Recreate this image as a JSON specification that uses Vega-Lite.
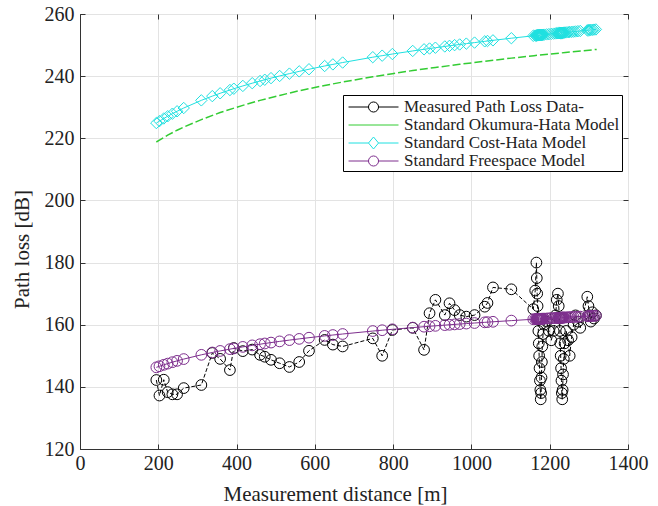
{
  "$schema": "https://vega.github.io/schema/vega-lite/v6.json",
  "width": 548,
  "height": 435,
  "autosize": {"type": "none"},
  "padding": {"left": 80, "top": 14, "right": 30, "bottom": 57},
  "background": "white",
  "datasets": {
    "main": [
      {"d":195,"m":142.2,"c":224.90,"f":146.28},
      {"d":203,"m":137.2,"c":225.53,"f":146.63},
      {"d":214,"m":142.3,"c":226.37,"f":147.09},
      {"d":224,"m":138.3,"c":227.09,"f":147.48},
      {"d":236,"m":137.6,"c":227.91,"f":147.94},
      {"d":248,"m":137.6,"c":228.69,"f":148.37},
      {"d":265,"m":139.6,"c":229.74,"f":148.94},
      {"d":310,"m":140.6,"c":232.21,"f":150.31},
      {"d":338,"m":150.9,"c":233.57,"f":151.06},
      {"d":358,"m":149.0,"c":234.48,"f":151.56},
      {"d":383,"m":145.4,"c":235.54,"f":152.14},
      {"d":393,"m":152.5,"c":235.95,"f":152.37},
      {"d":416,"m":151.5,"c":236.85,"f":152.86},
      {"d":440,"m":152.0,"c":237.73,"f":153.35},
      {"d":460,"m":150.3,"c":238.43,"f":153.73},
      {"d":472,"m":149.7,"c":238.84,"f":153.96},
      {"d":488,"m":148.7,"c":239.36,"f":154.25},
      {"d":510,"m":147.6,"c":240.06,"f":154.63},
      {"d":535,"m":146.4,"c":240.81,"f":155.05},
      {"d":560,"m":148.0,"c":241.53,"f":155.44},
      {"d":585,"m":151.6,"c":242.22,"f":155.82},
      {"d":625,"m":155.1,"c":243.26,"f":156.40},
      {"d":646,"m":153.6,"c":243.78,"f":156.68},
      {"d":671,"m":153.0,"c":244.38,"f":157.01},
      {"d":748,"m":155.6,"c":246.10,"f":157.96},
      {"d":772,"m":150.0,"c":246.59,"f":158.23},
      {"d":798,"m":158.3,"c":247.12,"f":158.52},
      {"d":850,"m":159.0,"c":248.11,"f":159.07},
      {"d":879,"m":151.9,"c":248.64,"f":159.36},
      {"d":893,"m":163.7,"c":248.89,"f":159.50},
      {"d":908,"m":168.0,"c":249.15,"f":159.64},
      {"d":932,"m":163.1,"c":249.56,"f":159.87},
      {"d":944,"m":166.9,"c":249.76,"f":159.98},
      {"d":957,"m":164.7,"c":249.98,"f":160.10},
      {"d":970,"m":163.1,"c":250.19,"f":160.21},
      {"d":987,"m":162.6,"c":250.47,"f":160.37},
      {"d":1008,"m":163.1,"c":250.80,"f":160.55},
      {"d":1034,"m":165.8,"c":251.20,"f":160.77},
      {"d":1041,"m":167.0,"c":251.31,"f":160.83},
      {"d":1055,"m":172.0,"c":251.52,"f":160.94},
      {"d":1102,"m":171.4,"c":252.21,"f":161.32},
      {"d":1158,"m":165,"c":252.98,"f":161.76},
      {"d":1163,"m":171,"c":253.05,"f":161.79},
      {"d":1166,"m":180,"c":253.09,"f":161.81},
      {"d":1167,"m":175,"c":253.10,"f":161.82},
      {"d":1168,"m":170,"c":253.12,"f":161.83},
      {"d":1169,"m":166,"c":253.13,"f":161.83},
      {"d":1170,"m":162,"c":253.15,"f":161.84},
      {"d":1171,"m":158,"c":253.16,"f":161.85},
      {"d":1172,"m":154,"c":253.17,"f":161.86},
      {"d":1173,"m":150,"c":253.19,"f":161.86},
      {"d":1174,"m":146,"c":253.20,"f":161.87},
      {"d":1175,"m":142,"c":253.21,"f":161.88},
      {"d":1176,"m":139,"c":253.23,"f":161.89},
      {"d":1177,"m":136,"c":253.24,"f":161.89},
      {"d":1178,"m":138,"c":253.25,"f":161.90},
      {"d":1179,"m":143,"c":253.27,"f":161.91},
      {"d":1180,"m":148,"c":253.28,"f":161.91},
      {"d":1181,"m":153,"c":253.29,"f":161.92},
      {"d":1183,"m":157,"c":253.32,"f":161.94},
      {"d":1186,"m":160,"c":253.36,"f":161.96},
      {"d":1192,"m":161,"c":253.44,"f":162.00},
      {"d":1198,"m":158,"c":253.52,"f":162.05},
      {"d":1204,"m":155,"c":253.60,"f":162.09},
      {"d":1210,"m":158,"c":253.68,"f":162.13},
      {"d":1215,"m":163,"c":253.74,"f":162.17},
      {"d":1218,"m":168,"c":253.78,"f":162.19},
      {"d":1221,"m":170,"c":253.82,"f":162.21},
      {"d":1223,"m":166,"c":253.84,"f":162.22},
      {"d":1225,"m":162,"c":253.87,"f":162.24},
      {"d":1226,"m":158,"c":253.88,"f":162.24},
      {"d":1227,"m":154,"c":253.89,"f":162.25},
      {"d":1228,"m":150,"c":253.91,"f":162.26},
      {"d":1229,"m":146,"c":253.92,"f":162.27},
      {"d":1230,"m":142,"c":253.93,"f":162.27},
      {"d":1231,"m":138,"c":253.94,"f":162.28},
      {"d":1232,"m":136,"c":253.96,"f":162.29},
      {"d":1233,"m":139,"c":253.97,"f":162.29},
      {"d":1234,"m":144,"c":253.98,"f":162.30},
      {"d":1236,"m":149,"c":254.01,"f":162.31},
      {"d":1238,"m":154,"c":254.03,"f":162.33},
      {"d":1242,"m":158,"c":254.08,"f":162.36},
      {"d":1247,"m":155,"c":254.15,"f":162.39},
      {"d":1251,"m":150,"c":254.20,"f":162.42},
      {"d":1256,"m":156,"c":254.26,"f":162.45},
      {"d":1261,"m":160,"c":254.32,"f":162.49},
      {"d":1266,"m":163,"c":254.38,"f":162.52},
      {"d":1272,"m":161,"c":254.46,"f":162.56},
      {"d":1278,"m":159,"c":254.53,"f":162.60},
      {"d":1296,"m":169,"c":254.76,"f":162.73},
      {"d":1299,"m":166,"c":254.80,"f":162.75},
      {"d":1302,"m":163,"c":254.83,"f":162.77},
      {"d":1305,"m":161,"c":254.87,"f":162.79},
      {"d":1309,"m":164,"c":254.92,"f":162.82},
      {"d":1313,"m":162,"c":254.97,"f":162.84},
      {"d":1318,"m":163,"c":255.03,"f":162.88}
    ],
    "oku": [
      {"d":195,"o":218.8},{"d":203,"o":219.4},{"d":224,"o":221.0},{"d":248,"o":222.6},
      {"d":265,"o":223.6},{"d":310,"o":226.0},{"d":358,"o":228.3},{"d":416,"o":230.6},
      {"d":460,"o":232.2},{"d":510,"o":233.8},{"d":560,"o":235.3},{"d":625,"o":237.0},
      {"d":671,"o":238.1},{"d":748,"o":239.8},{"d":798,"o":240.8},{"d":850,"o":241.8},
      {"d":908,"o":242.8},{"d":970,"o":243.8},{"d":1034,"o":244.8},{"d":1102,"o":245.8},
      {"d":1160,"o":246.6},{"d":1200,"o":247.1},{"d":1240,"o":247.6},{"d":1280,"o":248.1},
      {"d":1320,"o":248.6}
    ]
  },
  "resolve": {"axis": {"x": "independent", "y": "independent"}},
  "layer": [
    {
      "data": {"name": "main"},
      "mark": {"type": "line", "strokeWidth": 1, "strokeDash": [4, 2], "point": {"filled": false, "size": 115, "strokeWidth": 1}},
      "encoding": {
        "x": {"field": "d", "type": "quantitative", "scale": {"domain": [0, 1400]},
              "axis": {"values": [0,200,400,600,800,1000,1200,1400], "format": "d", "labelFlush": false, "labelPadding": 9, "title": "Measurement distance [m]", "titleX": 255, "titleY": 51, "titleBaseline": "alphabetic"}},
        "y": {"field": "m", "type": "quantitative", "scale": {"domain": [120, 260]},
              "axis": {"values": [120,140,160,180,200,220,240,260], "format": "d", "labelFlush": false, "labelPadding": 11, "title": "Path loss [dB]", "titleX": -58, "titleY": 235, "titleBaseline": "middle"}},
        "color": {"datum": "Measured Path Loss Data-", "type": "nominal",
          "scale": {"domain": ["Measured Path Loss Data-", "Standard Okumura-Hata Model", "Standard Cost-Hata Model", "Standard Freespace Model"],
                    "range": ["#000000", "#33cc33", "#1fe0e0", "#7e2f8e"]},
          "legend": {
            "title": null,
            "encode": {"symbols": {"update": {"shape": {"signal": "datum.value === 'Standard Okumura-Hata Model' ? 'M-0.68,0H4.58' : datum.value === 'Standard Cost-Hata Model' ? 'M-0.68,0H1.42M2.48,0H4.58M1.42,0L1.95,-0.63L2.48,0L1.95,0.63Z' : 'M-0.68,0H1.42M2.48,0H4.58M2.48,0A0.53,0.53,0,1,1,1.42,0A0.53,0.53,0,1,1,2.48,0'"}}}}
          }}
      }
    },
    {
      "data": {"name": "oku"},
      "mark": {"type": "line", "strokeWidth": 1.5, "strokeDash": [8, 3]},
      "encoding": {
        "x": {"field": "d", "type": "quantitative",
              "axis": {"orient": "top", "values": [0,200,400,600,800,1000,1200,1400], "labels": false, "grid": false, "domain": false, "title": null}},
        "y": {"field": "o", "type": "quantitative",
              "axis": {"orient": "right", "values": [120,140,160,180,200,220,240,260], "labels": false, "grid": false, "domain": false, "title": null}},
        "color": {"datum": "Standard Okumura-Hata Model", "type": "nominal"}
      }
    },
    {
      "data": {"name": "main"},
      "mark": {"type": "line", "strokeWidth": 1, "point": {"filled": false, "shape": "diamond", "size": 130, "strokeWidth": 1}},
      "encoding": {
        "x": {"field": "d", "type": "quantitative", "axis": null},
        "y": {"field": "c", "type": "quantitative", "axis": null},
        "color": {"datum": "Standard Cost-Hata Model", "type": "nominal"}
      }
    },
    {
      "data": {"name": "main"},
      "mark": {"type": "line", "strokeWidth": 1, "point": {"filled": false, "size": 115, "strokeWidth": 1}},
      "encoding": {
        "x": {"field": "d", "type": "quantitative", "axis": null},
        "y": {"field": "f", "type": "quantitative", "axis": null},
        "color": {"datum": "Standard Freespace Model", "type": "nominal"}
      }
    }
  ],
  "config": {
    "view": {"stroke": "#333333", "strokeWidth": 1},
    "font": "Liberation Serif",
    "axis": {
      "labelFont": "Liberation Serif", "titleFont": "Liberation Serif",
      "labelFontSize": 20, "titleFontSize": 21, "titleFontWeight": "normal",
      "labelColor": "#222222", "titleColor": "#222222",
      "gridColor": "#e3e3e3", "domainColor": "#333333", "tickColor": "#333333",
      "tickSize": -5, "labelPadding": 5
    },
    "legend": {
      "orient": "none", "legendX": 263, "legendY": 81,
      "strokeColor": "#000000", "fillColor": "#ffffff", "padding": 2,
      "symbolSize": 361, "symbolStrokeWidth": 1, "symbolType": "stroke",
      "labelFont": "Liberation Serif", "labelFontSize": 17, "labelColor": "#222222",
      "labelOffset": 39, "labelLimit": 400, "rowPadding": 0
    }
  }
}
